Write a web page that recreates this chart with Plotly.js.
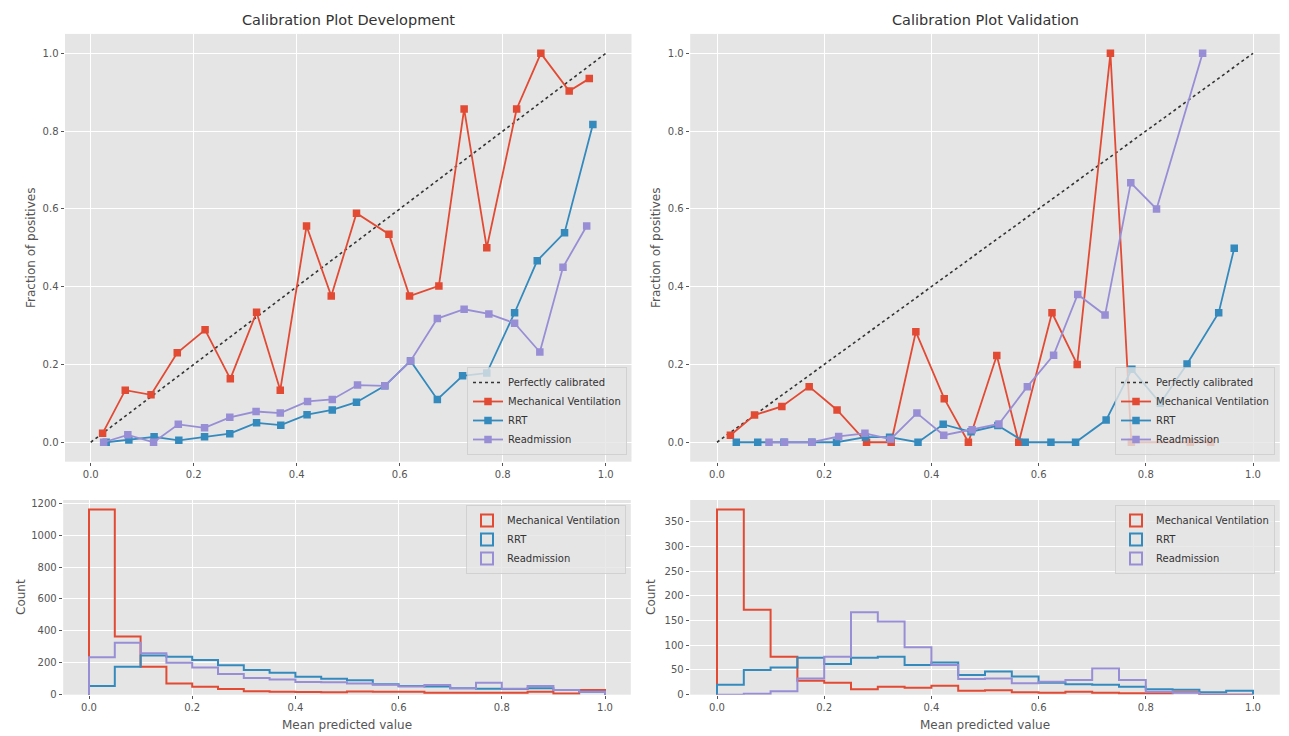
<!DOCTYPE html>
<html>
<head>
<meta charset="utf-8">
<script src="https://cdn.plot.ly/plotly-3.0.1.min.js"></script>
<style>html,body{margin:0;padding:0;background:#fff;}#chart{width:1289px;height:736px;}</style>
</head>
<body>
<div id="chart"></div>
<script>
// ---------- Data ----------
const seriesNames = ["Mechanical Ventilation", "RRT", "Readmission"];
const diagX = [0, 1];
const diagY = [0, 1];

// Calibration - Development
const mvDevX = [0.023,0.067,0.117,0.168,0.222,0.271,0.322,0.368,0.419,0.467,0.516,0.579,0.619,0.676,0.725,0.769,0.827,0.874,0.929,0.968];
const mvDevY = [0.023,0.134,0.122,0.230,0.289,0.163,0.334,0.134,0.556,0.376,0.589,0.535,0.376,0.402,0.857,0.500,0.857,1.000,0.903,0.935];
const rrtDevX = [0.030,0.074,0.123,0.171,0.221,0.270,0.322,0.369,0.420,0.469,0.516,0.571,0.621,0.673,0.722,0.769,0.823,0.867,0.920,0.975];
const rrtDevY = [0.000,0.006,0.014,0.005,0.014,0.022,0.050,0.044,0.071,0.083,0.103,0.145,0.209,0.110,0.171,0.178,0.333,0.467,0.539,0.817];
const readDevX = [0.025,0.072,0.122,0.170,0.221,0.270,0.321,0.368,0.421,0.469,0.518,0.571,0.621,0.673,0.725,0.773,0.823,0.872,0.917,0.963];
const readDevY = [0.000,0.019,0.000,0.046,0.037,0.064,0.079,0.075,0.105,0.110,0.147,0.145,0.209,0.318,0.342,0.330,0.306,0.232,0.450,0.556];

// Calibration - Validation
const mvValX = [0.025,0.070,0.121,0.172,0.224,0.279,0.325,0.371,0.424,0.469,0.522,0.563,0.625,0.672,0.734,0.773,0.883,0.921];
const mvValY = [0.018,0.070,0.092,0.143,0.083,0.000,0.000,0.284,0.112,0.000,0.223,0.000,0.333,0.200,1.000,0.000,0.000,0.000];
const rrtValX = [0.036,0.076,0.125,0.177,0.223,0.277,0.322,0.375,0.422,0.474,0.524,0.575,0.623,0.669,0.726,0.774,0.827,0.877,0.936,0.965];
const rrtValY = [0.000,0.000,0.000,0.000,0.000,0.013,0.013,0.000,0.046,0.027,0.043,0.000,0.000,0.000,0.057,0.188,0.100,0.201,0.333,0.499];
const readValX = [0.097,0.126,0.177,0.227,0.276,0.324,0.373,0.423,0.476,0.526,0.579,0.628,0.673,0.724,0.772,0.820,0.906];
const readValY = [0.000,0.000,0.000,0.015,0.023,0.008,0.075,0.018,0.032,0.047,0.143,0.224,0.380,0.327,0.667,0.600,1.000];

// Histograms (20 bins of width 0.05)
const binEdges = [0,0.05,0.1,0.15,0.2,0.25,0.3,0.35,0.4,0.45,0.5,0.55,0.6,0.65,0.7,0.75,0.8,0.85,0.9,0.95,1.0];
const mvDevCounts   = [1160,365,175,70,50,35,22,18,17,16,20,19,19,12,12,12,12,19,8,29];
const rrtDevCounts  = [55,175,245,238,218,185,155,138,113,100,90,66,55,52,40,38,36,40,29,19];
const readDevCounts = [235,325,260,200,170,130,105,95,80,78,70,62,52,60,40,75,38,54,29,19];
const mvValCounts   = [375,172,77,28,24,11,16,14,18,8,9,5,4,6,4,3,3,5,0,0];
const rrtValCounts  = [20,50,55,75,62,75,77,60,65,40,47,37,24,21,20,16,11,10,5,8];
const readValCounts = [0,2,7,33,77,167,148,96,60,32,33,23,26,30,53,30,6,4,0,0];

const calTicks = [0, 0.2, 0.4, 0.6, 0.8, 1.0];
const devCountTicks = [0, 200, 400, 600, 800, 1000, 1200];
const valCountTicks = [0, 50, 100, 150, 200, 250, 300, 350];

// ---------- Styling ----------
const colors = ["#E24A33", "#348ABD", "#988ED5"];
const FONT = "DejaVu Sans, Verdana, sans-serif";
const W = 1289, H = 736;
const px = v => v / W;
const py = v => (H - v) / H;

function calTrace(x, y, i, xa, ya, leg) {
  return {type: "scatter", mode: "lines+markers", x: x, y: y, name: seriesNames[i],
    xaxis: xa, yaxis: ya, legend: leg,
    line: {color: colors[i], width: 1.8},
    marker: {symbol: "square", size: 7.5, color: colors[i]}};
}
function diagTrace(xa, ya, leg) {
  return {type: "scatter", mode: "lines", x: diagX, y: diagY, name: "Perfectly calibrated",
    xaxis: xa, yaxis: ya, legend: leg, line: {color: "#333", width: 1.6, dash: "dot"}};
}
function histTrace(counts, i, xa, ya) {
  const n = counts.length;
  const x = [binEdges[0]].concat(binEdges.slice(0, n)).concat([binEdges[n], binEdges[n]]);
  const y = [0].concat(counts).concat([counts[n - 1], 0]);
  return {type: "scatter", mode: "lines", x: x, y: y, name: seriesNames[i], showlegend: false,
    xaxis: xa, yaxis: ya, line: {color: colors[i], width: 2, shape: "hv"}};
}
function histLegend(i, xa, ya, leg) {
  return {type: "bar", x: [null], y: [null], name: seriesNames[i], xaxis: xa, yaxis: ya, legend: leg,
    marker: {color: "rgba(0,0,0,0)", line: {color: colors[i], width: 2}}};
}

const data = [
  diagTrace("x", "y", "legend"),
  calTrace(mvDevX, mvDevY, 0, "x", "y", "legend"),
  calTrace(rrtDevX, rrtDevY, 1, "x", "y", "legend"),
  calTrace(readDevX, readDevY, 2, "x", "y", "legend"),
  diagTrace("x2", "y2", "legend2"),
  calTrace(mvValX, mvValY, 0, "x2", "y2", "legend2"),
  calTrace(rrtValX, rrtValY, 1, "x2", "y2", "legend2"),
  calTrace(readValX, readValY, 2, "x2", "y2", "legend2"),
  histTrace(mvDevCounts, 0, "x3", "y3"),
  histTrace(rrtDevCounts, 1, "x3", "y3"),
  histTrace(readDevCounts, 2, "x3", "y3"),
  histLegend(0, "x3", "y3", "legend3"),
  histLegend(1, "x3", "y3", "legend3"),
  histLegend(2, "x3", "y3", "legend3"),
  histTrace(mvValCounts, 0, "x4", "y4"),
  histTrace(rrtValCounts, 1, "x4", "y4"),
  histTrace(readValCounts, 2, "x4", "y4"),
  histLegend(0, "x4", "y4", "legend4"),
  histLegend(1, "x4", "y4", "legend4"),
  histLegend(2, "x4", "y4", "legend4")
];

function axis(extra) {
  return Object.assign({
    showgrid: true, gridcolor: "#FFFFFF", gridwidth: 1, zeroline: false, showline: false,
    ticks: "outside", ticklen: 3.5, tickwidth: 1, tickcolor: "#555555",
    tickfont: {family: FONT, size: 10, color: "#555555"}, automargin: false, fixedrange: true
  }, extra);
}

const topY = [py(461.7), py(33.9)];
const botY = [py(694.7), py(500)];

function legendBox(x, y, yanchor) {
  return {x: x, y: y, xanchor: "right", yanchor: yanchor, xref: "paper", yref: "paper",
    bgcolor: "rgba(229,229,229,0.8)", bordercolor: "rgba(204,204,204,0.8)", borderwidth: 1,
    font: {family: FONT, size: 10, color: "#333"}, tracegroupgap: 0, itemwidth: 30};
}

const layout = {
  width: W, height: H,
  margin: {l: 0, r: 0, t: 0, b: 0},
  paper_bgcolor: "#FFFFFF", plot_bgcolor: "#E5E5E5",
  font: {family: FONT},
  barmode: "overlay",
  xaxis:  axis({domain: [px(65), px(631.5)], range: [-0.05, 1.05], tickvals: calTicks, tickformat: ".1f", anchor: "y"}),
  yaxis:  axis({domain: topY, range: [-0.05, 1.05], tickvals: calTicks, tickformat: ".1f", anchor: "x"}),
  xaxis2: axis({domain: [px(690.2), px(1279.8)], range: [-0.05, 1.05], tickvals: calTicks, tickformat: ".1f", anchor: "y2"}),
  yaxis2: axis({domain: topY, range: [-0.05, 1.05], tickvals: calTicks, tickformat: ".1f", anchor: "x2"}),
  xaxis3: axis({domain: [px(63.2), px(630.8)], range: [-0.05, 1.05], tickvals: calTicks, tickformat: ".1f", anchor: "y3"}),
  yaxis3: axis({domain: botY, range: [0, 1220], tickvals: devCountTicks, anchor: "x3"}),
  xaxis4: axis({domain: [px(690.2), px(1279.8)], range: [-0.05, 1.05], tickvals: calTicks, tickformat: ".1f", anchor: "y4"}),
  yaxis4: axis({domain: botY, range: [0, 394], tickvals: valCountTicks, anchor: "x4"}),
  legend:  legendBox(px(627), py(455), "bottom"),
  legend2: legendBox(px(1275), py(455), "bottom"),
  legend3: legendBox(px(626), py(505), "top"),
  legend4: legendBox(px(1275), py(505), "top"),
  showlegend: true,
  annotations: [
    {text: "Calibration Plot Development", x: px(348.5), y: py(20), xref: "paper", yref: "paper", showarrow: false,
     xanchor: "center", yanchor: "middle", font: {family: FONT, size: 14.5, color: "#333"}},
    {text: "Calibration Plot Validation", x: px(985), y: py(20), xref: "paper", yref: "paper", showarrow: false,
     xanchor: "center", yanchor: "middle", font: {family: FONT, size: 14.5, color: "#333"}},
    {text: "Fraction of positives", x: px(31), y: py(248), xref: "paper", yref: "paper", showarrow: false, textangle: -90,
     xanchor: "center", yanchor: "middle", font: {family: FONT, size: 12, color: "#555"}},
    {text: "Fraction of positives", x: px(656), y: py(248), xref: "paper", yref: "paper", showarrow: false, textangle: -90,
     xanchor: "center", yanchor: "middle", font: {family: FONT, size: 12, color: "#555"}},
    {text: "Count", x: px(21), y: py(597), xref: "paper", yref: "paper", showarrow: false, textangle: -90,
     xanchor: "center", yanchor: "middle", font: {family: FONT, size: 12, color: "#555"}},
    {text: "Count", x: px(651), y: py(597), xref: "paper", yref: "paper", showarrow: false, textangle: -90,
     xanchor: "center", yanchor: "middle", font: {family: FONT, size: 12, color: "#555"}},
    {text: "Mean predicted value", x: px(347), y: py(725), xref: "paper", yref: "paper", showarrow: false,
     xanchor: "center", yanchor: "middle", font: {family: FONT, size: 12, color: "#555"}},
    {text: "Mean predicted value", x: px(985), y: py(725), xref: "paper", yref: "paper", showarrow: false,
     xanchor: "center", yanchor: "middle", font: {family: FONT, size: 12, color: "#555"}}
  ]
};

Plotly.newPlot("chart", data, layout, {staticPlot: true, displayModeBar: false});
</script>
</body>
</html>
